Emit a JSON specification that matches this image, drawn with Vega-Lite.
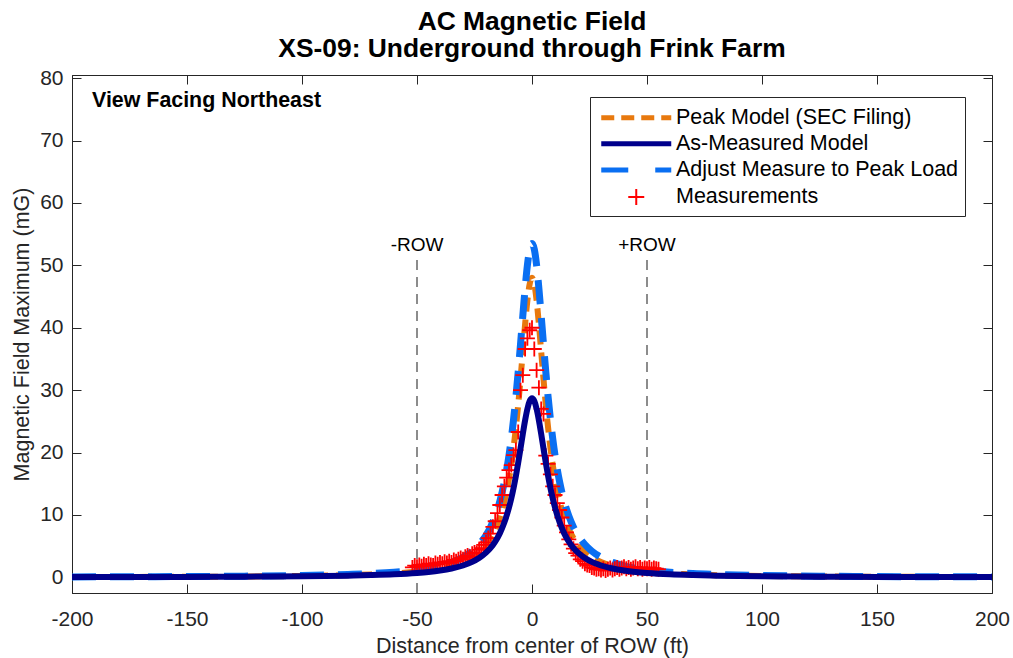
{
  "$schema": "https://vega.github.io/schema/vega-lite/v6.json",
  "width": 920,
  "height": 518,
  "autosize": {"type": "none"},
  "padding": {"left": 72, "top": 75, "right": 21, "bottom": 65},
  "background": "white",
  "title": {
    "text": ["AC Magnetic Field", "XS-09: Underground through Frink Farm"],
    "font": "Liberation Sans",
    "fontSize": 26.4,
    "fontWeight": "bold",
    "color": "#000000",
    "anchor": "middle",
    "lineHeight": 27,
    "offset": 5
  },
  "config": {
    "view": {"stroke": "#262626", "strokeWidth": 1},
    "axis": {
      "domainColor": "#262626",
      "tickColor": "#262626",
      "labelColor": "#262626",
      "titleColor": "#262626",
      "labelFont": "Liberation Sans",
      "titleFont": "Liberation Sans",
      "labelFontSize": 21,
      "titleFontSize": 21.5,
      "titleFontWeight": "normal",
      "grid": false,
      "tickSize": -9,
      "tickWidth": 1,
      "domainWidth": 1,
      "labelFlush": false,
      "labelOverlap": false
    }
  },
  "resolve": {"axis": {"x": "independent", "y": "independent"}},
  "datasets": {
    "curves": [
      {"series": "As-Measured Model", "distance": -200, "mG": 0.05},
      {"series": "As-Measured Model", "distance": -175, "mG": 0.06},
      {"series": "As-Measured Model", "distance": -150, "mG": 0.08},
      {"series": "As-Measured Model", "distance": -125, "mG": 0.12},
      {"series": "As-Measured Model", "distance": -100, "mG": 0.18},
      {"series": "As-Measured Model", "distance": -80, "mG": 0.28},
      {"series": "As-Measured Model", "distance": -70, "mG": 0.37},
      {"series": "As-Measured Model", "distance": -60, "mG": 0.5},
      {"series": "As-Measured Model", "distance": -50, "mG": 0.72},
      {"series": "As-Measured Model", "distance": -45, "mG": 0.88},
      {"series": "As-Measured Model", "distance": -40, "mG": 1.1},
      {"series": "As-Measured Model", "distance": -35, "mG": 1.42},
      {"series": "As-Measured Model", "distance": -30, "mG": 1.91},
      {"series": "As-Measured Model", "distance": -26, "mG": 2.48},
      {"series": "As-Measured Model", "distance": -23, "mG": 3.1},
      {"series": "As-Measured Model", "distance": -20, "mG": 3.96},
      {"series": "As-Measured Model", "distance": -18, "mG": 4.73},
      {"series": "As-Measured Model", "distance": -16, "mG": 5.74},
      {"series": "As-Measured Model", "distance": -14, "mG": 7.06},
      {"series": "As-Measured Model", "distance": -12, "mG": 8.83},
      {"series": "As-Measured Model", "distance": -10, "mG": 11.2},
      {"series": "As-Measured Model", "distance": -9, "mG": 12.67},
      {"series": "As-Measured Model", "distance": -8, "mG": 14.35},
      {"series": "As-Measured Model", "distance": -7, "mG": 16.25},
      {"series": "As-Measured Model", "distance": -6, "mG": 18.37},
      {"series": "As-Measured Model", "distance": -5, "mG": 20.64},
      {"series": "As-Measured Model", "distance": -4, "mG": 22.96},
      {"series": "As-Measured Model", "distance": -3, "mG": 25.16},
      {"series": "As-Measured Model", "distance": -2, "mG": 27.01},
      {"series": "As-Measured Model", "distance": -1, "mG": 28.26},
      {"series": "As-Measured Model", "distance": 0, "mG": 28.7},
      {"series": "As-Measured Model", "distance": 1, "mG": 28.26},
      {"series": "As-Measured Model", "distance": 2, "mG": 27.01},
      {"series": "As-Measured Model", "distance": 3, "mG": 25.16},
      {"series": "As-Measured Model", "distance": 4, "mG": 22.96},
      {"series": "As-Measured Model", "distance": 5, "mG": 20.64},
      {"series": "As-Measured Model", "distance": 6, "mG": 18.37},
      {"series": "As-Measured Model", "distance": 7, "mG": 16.25},
      {"series": "As-Measured Model", "distance": 8, "mG": 14.35},
      {"series": "As-Measured Model", "distance": 9, "mG": 12.67},
      {"series": "As-Measured Model", "distance": 10, "mG": 11.2},
      {"series": "As-Measured Model", "distance": 12, "mG": 8.83},
      {"series": "As-Measured Model", "distance": 14, "mG": 7.06},
      {"series": "As-Measured Model", "distance": 16, "mG": 5.74},
      {"series": "As-Measured Model", "distance": 18, "mG": 4.73},
      {"series": "As-Measured Model", "distance": 20, "mG": 3.96},
      {"series": "As-Measured Model", "distance": 23, "mG": 3.1},
      {"series": "As-Measured Model", "distance": 26, "mG": 2.48},
      {"series": "As-Measured Model", "distance": 30, "mG": 1.91},
      {"series": "As-Measured Model", "distance": 35, "mG": 1.42},
      {"series": "As-Measured Model", "distance": 40, "mG": 1.1},
      {"series": "As-Measured Model", "distance": 45, "mG": 0.88},
      {"series": "As-Measured Model", "distance": 50, "mG": 0.72},
      {"series": "As-Measured Model", "distance": 60, "mG": 0.5},
      {"series": "As-Measured Model", "distance": 70, "mG": 0.37},
      {"series": "As-Measured Model", "distance": 80, "mG": 0.28},
      {"series": "As-Measured Model", "distance": 100, "mG": 0.18},
      {"series": "As-Measured Model", "distance": 125, "mG": 0.12},
      {"series": "As-Measured Model", "distance": 150, "mG": 0.08},
      {"series": "As-Measured Model", "distance": 175, "mG": 0.06},
      {"series": "As-Measured Model", "distance": 200, "mG": 0.05},

      {"series": "Peak Model (SEC Filing)", "distance": -200, "mG": 0.06},
      {"series": "Peak Model (SEC Filing)", "distance": -175, "mG": 0.08},
      {"series": "Peak Model (SEC Filing)", "distance": -150, "mG": 0.1},
      {"series": "Peak Model (SEC Filing)", "distance": -125, "mG": 0.15},
      {"series": "Peak Model (SEC Filing)", "distance": -100, "mG": 0.23},
      {"series": "Peak Model (SEC Filing)", "distance": -80, "mG": 0.36},
      {"series": "Peak Model (SEC Filing)", "distance": -70, "mG": 0.48},
      {"series": "Peak Model (SEC Filing)", "distance": -60, "mG": 0.64},
      {"series": "Peak Model (SEC Filing)", "distance": -50, "mG": 0.92},
      {"series": "Peak Model (SEC Filing)", "distance": -45, "mG": 1.13},
      {"series": "Peak Model (SEC Filing)", "distance": -40, "mG": 1.43},
      {"series": "Peak Model (SEC Filing)", "distance": -35, "mG": 1.85},
      {"series": "Peak Model (SEC Filing)", "distance": -30, "mG": 2.48},
      {"series": "Peak Model (SEC Filing)", "distance": -26, "mG": 3.24},
      {"series": "Peak Model (SEC Filing)", "distance": -23, "mG": 4.07},
      {"series": "Peak Model (SEC Filing)", "distance": -20, "mG": 5.24},
      {"series": "Peak Model (SEC Filing)", "distance": -18, "mG": 6.31},
      {"series": "Peak Model (SEC Filing)", "distance": -16, "mG": 7.71},
      {"series": "Peak Model (SEC Filing)", "distance": -14, "mG": 9.6},
      {"series": "Peak Model (SEC Filing)", "distance": -12, "mG": 12.19},
      {"series": "Peak Model (SEC Filing)", "distance": -10, "mG": 15.79},
      {"series": "Peak Model (SEC Filing)", "distance": -9, "mG": 18.09},
      {"series": "Peak Model (SEC Filing)", "distance": -8, "mG": 20.81},
      {"series": "Peak Model (SEC Filing)", "distance": -7, "mG": 24.0},
      {"series": "Peak Model (SEC Filing)", "distance": -6, "mG": 27.67},
      {"series": "Peak Model (SEC Filing)", "distance": -5, "mG": 31.78},
      {"series": "Peak Model (SEC Filing)", "distance": -4, "mG": 36.18},
      {"series": "Peak Model (SEC Filing)", "distance": -3, "mG": 40.55},
      {"series": "Peak Model (SEC Filing)", "distance": -2, "mG": 44.38},
      {"series": "Peak Model (SEC Filing)", "distance": -1, "mG": 47.04},
      {"series": "Peak Model (SEC Filing)", "distance": 0, "mG": 48.0},
      {"series": "Peak Model (SEC Filing)", "distance": 1, "mG": 47.04},
      {"series": "Peak Model (SEC Filing)", "distance": 2, "mG": 44.38},
      {"series": "Peak Model (SEC Filing)", "distance": 3, "mG": 40.55},
      {"series": "Peak Model (SEC Filing)", "distance": 4, "mG": 36.18},
      {"series": "Peak Model (SEC Filing)", "distance": 5, "mG": 31.78},
      {"series": "Peak Model (SEC Filing)", "distance": 6, "mG": 27.67},
      {"series": "Peak Model (SEC Filing)", "distance": 7, "mG": 24.0},
      {"series": "Peak Model (SEC Filing)", "distance": 8, "mG": 20.81},
      {"series": "Peak Model (SEC Filing)", "distance": 9, "mG": 18.09},
      {"series": "Peak Model (SEC Filing)", "distance": 10, "mG": 15.79},
      {"series": "Peak Model (SEC Filing)", "distance": 12, "mG": 12.19},
      {"series": "Peak Model (SEC Filing)", "distance": 14, "mG": 9.6},
      {"series": "Peak Model (SEC Filing)", "distance": 16, "mG": 7.71},
      {"series": "Peak Model (SEC Filing)", "distance": 18, "mG": 6.31},
      {"series": "Peak Model (SEC Filing)", "distance": 20, "mG": 5.24},
      {"series": "Peak Model (SEC Filing)", "distance": 23, "mG": 4.07},
      {"series": "Peak Model (SEC Filing)", "distance": 26, "mG": 3.24},
      {"series": "Peak Model (SEC Filing)", "distance": 30, "mG": 2.48},
      {"series": "Peak Model (SEC Filing)", "distance": 35, "mG": 1.85},
      {"series": "Peak Model (SEC Filing)", "distance": 40, "mG": 1.43},
      {"series": "Peak Model (SEC Filing)", "distance": 45, "mG": 1.13},
      {"series": "Peak Model (SEC Filing)", "distance": 50, "mG": 0.92},
      {"series": "Peak Model (SEC Filing)", "distance": 60, "mG": 0.64},
      {"series": "Peak Model (SEC Filing)", "distance": 70, "mG": 0.48},
      {"series": "Peak Model (SEC Filing)", "distance": 80, "mG": 0.36},
      {"series": "Peak Model (SEC Filing)", "distance": 100, "mG": 0.23},
      {"series": "Peak Model (SEC Filing)", "distance": 125, "mG": 0.15},
      {"series": "Peak Model (SEC Filing)", "distance": 150, "mG": 0.1},
      {"series": "Peak Model (SEC Filing)", "distance": 175, "mG": 0.08},
      {"series": "Peak Model (SEC Filing)", "distance": 200, "mG": 0.06},

      {"series": "Adjust Measure to Peak Load", "distance": -200, "mG": 0.08},
      {"series": "Adjust Measure to Peak Load", "distance": -175, "mG": 0.1},
      {"series": "Adjust Measure to Peak Load", "distance": -150, "mG": 0.14},
      {"series": "Adjust Measure to Peak Load", "distance": -125, "mG": 0.2},
      {"series": "Adjust Measure to Peak Load", "distance": -100, "mG": 0.31},
      {"series": "Adjust Measure to Peak Load", "distance": -80, "mG": 0.48},
      {"series": "Adjust Measure to Peak Load", "distance": -70, "mG": 0.62},
      {"series": "Adjust Measure to Peak Load", "distance": -60, "mG": 0.84},
      {"series": "Adjust Measure to Peak Load", "distance": -50, "mG": 1.21},
      {"series": "Adjust Measure to Peak Load", "distance": -45, "mG": 1.48},
      {"series": "Adjust Measure to Peak Load", "distance": -40, "mG": 1.86},
      {"series": "Adjust Measure to Peak Load", "distance": -35, "mG": 2.41},
      {"series": "Adjust Measure to Peak Load", "distance": -30, "mG": 3.23},
      {"series": "Adjust Measure to Peak Load", "distance": -26, "mG": 4.21},
      {"series": "Adjust Measure to Peak Load", "distance": -23, "mG": 5.27},
      {"series": "Adjust Measure to Peak Load", "distance": -20, "mG": 6.75},
      {"series": "Adjust Measure to Peak Load", "distance": -18, "mG": 8.09},
      {"series": "Adjust Measure to Peak Load", "distance": -16, "mG": 9.85},
      {"series": "Adjust Measure to Peak Load", "distance": -14, "mG": 12.18},
      {"series": "Adjust Measure to Peak Load", "distance": -12, "mG": 15.32},
      {"series": "Adjust Measure to Peak Load", "distance": -10, "mG": 19.59},
      {"series": "Adjust Measure to Peak Load", "distance": -9, "mG": 22.27},
      {"series": "Adjust Measure to Peak Load", "distance": -8, "mG": 25.38},
      {"series": "Adjust Measure to Peak Load", "distance": -7, "mG": 28.94},
      {"series": "Adjust Measure to Peak Load", "distance": -6, "mG": 32.96},
      {"series": "Adjust Measure to Peak Load", "distance": -5, "mG": 37.34},
      {"series": "Adjust Measure to Peak Load", "distance": -4, "mG": 41.89},
      {"series": "Adjust Measure to Peak Load", "distance": -3, "mG": 46.29},
      {"series": "Adjust Measure to Peak Load", "distance": -2, "mG": 50.03},
      {"series": "Adjust Measure to Peak Load", "distance": -1, "mG": 52.59},
      {"series": "Adjust Measure to Peak Load", "distance": 0, "mG": 53.5},
      {"series": "Adjust Measure to Peak Load", "distance": 1, "mG": 52.59},
      {"series": "Adjust Measure to Peak Load", "distance": 2, "mG": 50.03},
      {"series": "Adjust Measure to Peak Load", "distance": 3, "mG": 46.29},
      {"series": "Adjust Measure to Peak Load", "distance": 4, "mG": 41.89},
      {"series": "Adjust Measure to Peak Load", "distance": 5, "mG": 37.34},
      {"series": "Adjust Measure to Peak Load", "distance": 6, "mG": 32.96},
      {"series": "Adjust Measure to Peak Load", "distance": 7, "mG": 28.94},
      {"series": "Adjust Measure to Peak Load", "distance": 8, "mG": 25.38},
      {"series": "Adjust Measure to Peak Load", "distance": 9, "mG": 22.27},
      {"series": "Adjust Measure to Peak Load", "distance": 10, "mG": 19.59},
      {"series": "Adjust Measure to Peak Load", "distance": 12, "mG": 15.32},
      {"series": "Adjust Measure to Peak Load", "distance": 14, "mG": 12.18},
      {"series": "Adjust Measure to Peak Load", "distance": 16, "mG": 9.85},
      {"series": "Adjust Measure to Peak Load", "distance": 18, "mG": 8.09},
      {"series": "Adjust Measure to Peak Load", "distance": 20, "mG": 6.75},
      {"series": "Adjust Measure to Peak Load", "distance": 23, "mG": 5.27},
      {"series": "Adjust Measure to Peak Load", "distance": 26, "mG": 4.21},
      {"series": "Adjust Measure to Peak Load", "distance": 30, "mG": 3.23},
      {"series": "Adjust Measure to Peak Load", "distance": 35, "mG": 2.41},
      {"series": "Adjust Measure to Peak Load", "distance": 40, "mG": 1.86},
      {"series": "Adjust Measure to Peak Load", "distance": 45, "mG": 1.48},
      {"series": "Adjust Measure to Peak Load", "distance": 50, "mG": 1.21},
      {"series": "Adjust Measure to Peak Load", "distance": 60, "mG": 0.84},
      {"series": "Adjust Measure to Peak Load", "distance": 70, "mG": 0.62},
      {"series": "Adjust Measure to Peak Load", "distance": 80, "mG": 0.48},
      {"series": "Adjust Measure to Peak Load", "distance": 100, "mG": 0.31},
      {"series": "Adjust Measure to Peak Load", "distance": 125, "mG": 0.2},
      {"series": "Adjust Measure to Peak Load", "distance": 150, "mG": 0.14},
      {"series": "Adjust Measure to Peak Load", "distance": 175, "mG": 0.1},
      {"series": "Adjust Measure to Peak Load", "distance": 200, "mG": 0.08}
    ],
    "measurements": [
      {"series": "Measurements", "distance": -52, "mG": 1.6},
      {"series": "Measurements", "distance": -51, "mG": 1.9},
      {"series": "Measurements", "distance": -50, "mG": 1.7},
      {"series": "Measurements", "distance": -49, "mG": 2.0},
      {"series": "Measurements", "distance": -48, "mG": 1.8},
      {"series": "Measurements", "distance": -47, "mG": 2.1},
      {"series": "Measurements", "distance": -46, "mG": 1.9},
      {"series": "Measurements", "distance": -45, "mG": 2.2},
      {"series": "Measurements", "distance": -44, "mG": 2.0},
      {"series": "Measurements", "distance": -43, "mG": 1.9},
      {"series": "Measurements", "distance": -42, "mG": 2.3},
      {"series": "Measurements", "distance": -41, "mG": 2.1},
      {"series": "Measurements", "distance": -40, "mG": 2.4},
      {"series": "Measurements", "distance": -39, "mG": 2.2},
      {"series": "Measurements", "distance": -38, "mG": 2.5},
      {"series": "Measurements", "distance": -37, "mG": 2.3},
      {"series": "Measurements", "distance": -36, "mG": 2.6},
      {"series": "Measurements", "distance": -35, "mG": 2.4},
      {"series": "Measurements", "distance": -34, "mG": 2.8},
      {"series": "Measurements", "distance": -33, "mG": 2.6},
      {"series": "Measurements", "distance": -32, "mG": 2.9},
      {"series": "Measurements", "distance": -31, "mG": 3.1},
      {"series": "Measurements", "distance": -30, "mG": 2.9},
      {"series": "Measurements", "distance": -29, "mG": 3.3},
      {"series": "Measurements", "distance": -28, "mG": 3.5},
      {"series": "Measurements", "distance": -27, "mG": 3.3},
      {"series": "Measurements", "distance": -26, "mG": 3.8},
      {"series": "Measurements", "distance": -25, "mG": 4.0},
      {"series": "Measurements", "distance": -24, "mG": 3.9},
      {"series": "Measurements", "distance": -23, "mG": 4.4},
      {"series": "Measurements", "distance": -22, "mG": 4.7},
      {"series": "Measurements", "distance": -21, "mG": 5.2},
      {"series": "Measurements", "distance": -20, "mG": 5.6},
      {"series": "Measurements", "distance": -19, "mG": 6.3},
      {"series": "Measurements", "distance": -18, "mG": 7.0},
      {"series": "Measurements", "distance": -17, "mG": 8.1},
      {"series": "Measurements", "distance": -16, "mG": 9.0},
      {"series": "Measurements", "distance": -15, "mG": 10.3},
      {"series": "Measurements", "distance": -14, "mG": 11.6},
      {"series": "Measurements", "distance": -13, "mG": 13.2},
      {"series": "Measurements", "distance": -12, "mG": 14.6},
      {"series": "Measurements", "distance": -11, "mG": 16.0},
      {"series": "Measurements", "distance": -10, "mG": 17.2},
      {"series": "Measurements", "distance": -9, "mG": 18.0},
      {"series": "Measurements", "distance": -8, "mG": 19.6},
      {"series": "Measurements", "distance": -7, "mG": 20.4},
      {"series": "Measurements", "distance": -6, "mG": 23.3},
      {"series": "Measurements", "distance": -5, "mG": 30.0},
      {"series": "Measurements", "distance": -4, "mG": 32.4},
      {"series": "Measurements", "distance": -3, "mG": 36.6},
      {"series": "Measurements", "distance": -2, "mG": 38.3},
      {"series": "Measurements", "distance": -1, "mG": 39.6},
      {"series": "Measurements", "distance": 0, "mG": 40.0},
      {"series": "Measurements", "distance": 1, "mG": 36.6},
      {"series": "Measurements", "distance": 2, "mG": 33.2},
      {"series": "Measurements", "distance": 3, "mG": 30.4},
      {"series": "Measurements", "distance": 4, "mG": 27.0},
      {"series": "Measurements", "distance": 5, "mG": 26.2},
      {"series": "Measurements", "distance": 6, "mG": 19.5},
      {"series": "Measurements", "distance": 7, "mG": 18.2},
      {"series": "Measurements", "distance": 8, "mG": 16.5},
      {"series": "Measurements", "distance": 9, "mG": 14.6},
      {"series": "Measurements", "distance": 10, "mG": 13.2},
      {"series": "Measurements", "distance": 11, "mG": 11.9},
      {"series": "Measurements", "distance": 12, "mG": 10.8},
      {"series": "Measurements", "distance": 13, "mG": 9.6},
      {"series": "Measurements", "distance": 14, "mG": 8.3},
      {"series": "Measurements", "distance": 15, "mG": 7.2},
      {"series": "Measurements", "distance": 16, "mG": 6.1},
      {"series": "Measurements", "distance": 17, "mG": 5.3},
      {"series": "Measurements", "distance": 18, "mG": 4.6},
      {"series": "Measurements", "distance": 19, "mG": 3.9},
      {"series": "Measurements", "distance": 20, "mG": 3.5},
      {"series": "Measurements", "distance": 21, "mG": 2.9},
      {"series": "Measurements", "distance": 22, "mG": 2.6},
      {"series": "Measurements", "distance": 23, "mG": 2.2},
      {"series": "Measurements", "distance": 24, "mG": 2.0},
      {"series": "Measurements", "distance": 25, "mG": 1.9},
      {"series": "Measurements", "distance": 26, "mG": 1.6},
      {"series": "Measurements", "distance": 27, "mG": 1.5},
      {"series": "Measurements", "distance": 28, "mG": 1.3},
      {"series": "Measurements", "distance": 29, "mG": 1.4},
      {"series": "Measurements", "distance": 30, "mG": 1.2},
      {"series": "Measurements", "distance": 31, "mG": 1.4},
      {"series": "Measurements", "distance": 32, "mG": 1.1},
      {"series": "Measurements", "distance": 33, "mG": 1.3},
      {"series": "Measurements", "distance": 34, "mG": 1.5},
      {"series": "Measurements", "distance": 35, "mG": 1.2},
      {"series": "Measurements", "distance": 36, "mG": 1.4},
      {"series": "Measurements", "distance": 37, "mG": 1.6},
      {"series": "Measurements", "distance": 38, "mG": 1.3},
      {"series": "Measurements", "distance": 39, "mG": 1.5},
      {"series": "Measurements", "distance": 40, "mG": 1.7},
      {"series": "Measurements", "distance": 41, "mG": 1.4},
      {"series": "Measurements", "distance": 42, "mG": 1.6},
      {"series": "Measurements", "distance": 43, "mG": 1.3},
      {"series": "Measurements", "distance": 44, "mG": 1.5},
      {"series": "Measurements", "distance": 45, "mG": 1.7},
      {"series": "Measurements", "distance": 46, "mG": 1.4},
      {"series": "Measurements", "distance": 47, "mG": 1.6},
      {"series": "Measurements", "distance": 48, "mG": 1.3},
      {"series": "Measurements", "distance": 49, "mG": 1.5},
      {"series": "Measurements", "distance": 50, "mG": 1.4},
      {"series": "Measurements", "distance": 51, "mG": 1.6},
      {"series": "Measurements", "distance": 52, "mG": 1.3},
      {"series": "Measurements", "distance": 53, "mG": 1.5},
      {"series": "Measurements", "distance": 54, "mG": 1.4},
      {"series": "Measurements", "distance": 55, "mG": 1.3}
    ],
    "row": [
      {"distance": -50, "label": "-ROW"},
      {"distance": 50, "label": "+ROW"}
    ],
    "note": [
      {"label": "View Facing Northeast"}
    ]
  },
  "layer": [
    {
      "data": {"name": "row"},
      "mark": {"type": "rule", "color": "#8c8c8c", "strokeWidth": 2, "strokeDash": [10, 7]},
      "encoding": {
        "x": {"field": "distance", "type": "quantitative", "scale": {"domain": [-200, 200], "nice": false}, "axis": null},
        "y": {"datum": -2.5, "type": "quantitative", "scale": {"domain": [-2.5, 80.5], "nice": false, "zero": false}, "axis": null},
        "y2": {"datum": 51}
      }
    },
    {
      "data": {"name": "row"},
      "mark": {"type": "text", "font": "Liberation Sans", "fontSize": 19, "color": "#000000", "align": "center", "baseline": "middle"},
      "encoding": {
        "x": {"field": "distance", "type": "quantitative", "axis": null},
        "y": {"datum": 53.3, "type": "quantitative", "axis": null},
        "text": {"field": "label"}
      }
    },
    {
      "data": {"name": "curves"},
      "transform": [{"filter": "datum.series === 'Peak Model (SEC Filing)'"}],
      "mark": {"type": "line", "strokeWidth": 6, "strokeDash": [14, 8], "interpolate": "monotone"},
      "encoding": {
        "x": {"field": "distance", "type": "quantitative", "axis": {"orient": "top", "values": [-200, -150, -100, -50, 0, 50, 100, 150, 200], "labels": false, "title": null, "domain": false}},
        "y": {"field": "mG", "type": "quantitative", "axis": {"orient": "right", "values": [0, 10, 20, 30, 40, 50, 60, 70, 80], "labels": false, "title": null, "domain": false}},
        "color": {
          "field": "series", "type": "nominal",
          "scale": {"domain": ["Peak Model (SEC Filing)", "As-Measured Model", "Adjust Measure to Peak Load", "Measurements"], "range": ["#E8790E", "#00008C", "#0A6FF2", "#FF0000"]},
          "legend": {
            "title": " ", "titleFontSize": 2, "titlePadding": 2,
            "orient": "none", "legendX": 518, "legendY": 22, "direction": "vertical",
            "strokeColor": "#262626", "fillColor": "white", "padding": 6,
            "labelFont": "Liberation Sans", "labelFontSize": 21.5, "labelColor": "#000000", "labelOffset": 29, "labelLimit": 400,
            "symbolSize": 400, "symbolType": "M-3.5,0H3.5", "symbolStrokeWidth": 5, "symbolOffset": 29.5, "rowPadding": 3.1,
            "encode": {"symbols": {"update": {
              "shape": {"signal": "datum.value === 'Measurements' ? 'M-0.8,0H0.8M0,-0.8V0.8' : 'M-3.5,0H3.5'"},
              "strokeWidth": {"signal": "datum.value === 'Measurements' ? 2 : 5"},
              "strokeDash": {"signal": "datum.value === 'Peak Model (SEC Filing)' ? [13, 7] : (datum.value === 'Adjust Measure to Peak Load' ? [27, 27] : [1, 0])"},
              "fill": {"value": "transparent"},
              "opacity": {"value": 1}
            }}}
          }
        }
      }
    },
    {
      "data": {"name": "curves"},
      "transform": [{"filter": "datum.series === 'Adjust Measure to Peak Load'"}],
      "mark": {"type": "line", "strokeWidth": 7, "strokeDash": [24, 14], "interpolate": "monotone"},
      "encoding": {
        "x": {"field": "distance", "type": "quantitative", "axis": null},
        "y": {"field": "mG", "type": "quantitative", "axis": null},
        "color": {"field": "series", "type": "nominal"}
      }
    },
    {
      "data": {"name": "measurements"},
      "mark": {"type": "point", "shape": "M-1,0H1M0,-1V1", "filled": false, "size": 225, "strokeWidth": 1.8, "opacity": 1},
      "encoding": {
        "x": {"field": "distance", "type": "quantitative", "axis": null},
        "y": {"field": "mG", "type": "quantitative", "axis": null},
        "color": {"field": "series", "type": "nominal"}
      }
    },
    {
      "data": {"name": "curves"},
      "transform": [{"filter": "datum.series === 'As-Measured Model'"}],
      "mark": {"type": "line", "strokeWidth": 6, "interpolate": "monotone"},
      "encoding": {
        "x": {"field": "distance", "type": "quantitative", "axis": {"values": [-200, -150, -100, -50, 0, 50, 100, 150, 200], "labelExpr": "'' + datum.value", "title": "Distance from center of ROW (ft)", "labelPadding": 24, "titlePadding": 6}},
        "y": {"field": "mG", "type": "quantitative", "axis": {"values": [0, 10, 20, 30, 40, 50, 60, 70, 80], "labelExpr": "'' + datum.value", "title": "Magnetic Field Maximum (mG)", "labelPadding": 18, "titlePadding": 6}},
        "color": {"field": "series", "type": "nominal"}
      }
    },
    {
      "data": {"name": "note"},
      "mark": {"type": "text", "font": "Liberation Sans", "fontSize": 21.4, "fontWeight": "bold", "color": "#000000", "align": "left", "baseline": "middle"},
      "encoding": {
        "x": {"datum": -191.3, "type": "quantitative", "axis": null},
        "y": {"datum": 76.4, "type": "quantitative", "axis": null},
        "text": {"field": "label"}
      }
    }
  ]
}
